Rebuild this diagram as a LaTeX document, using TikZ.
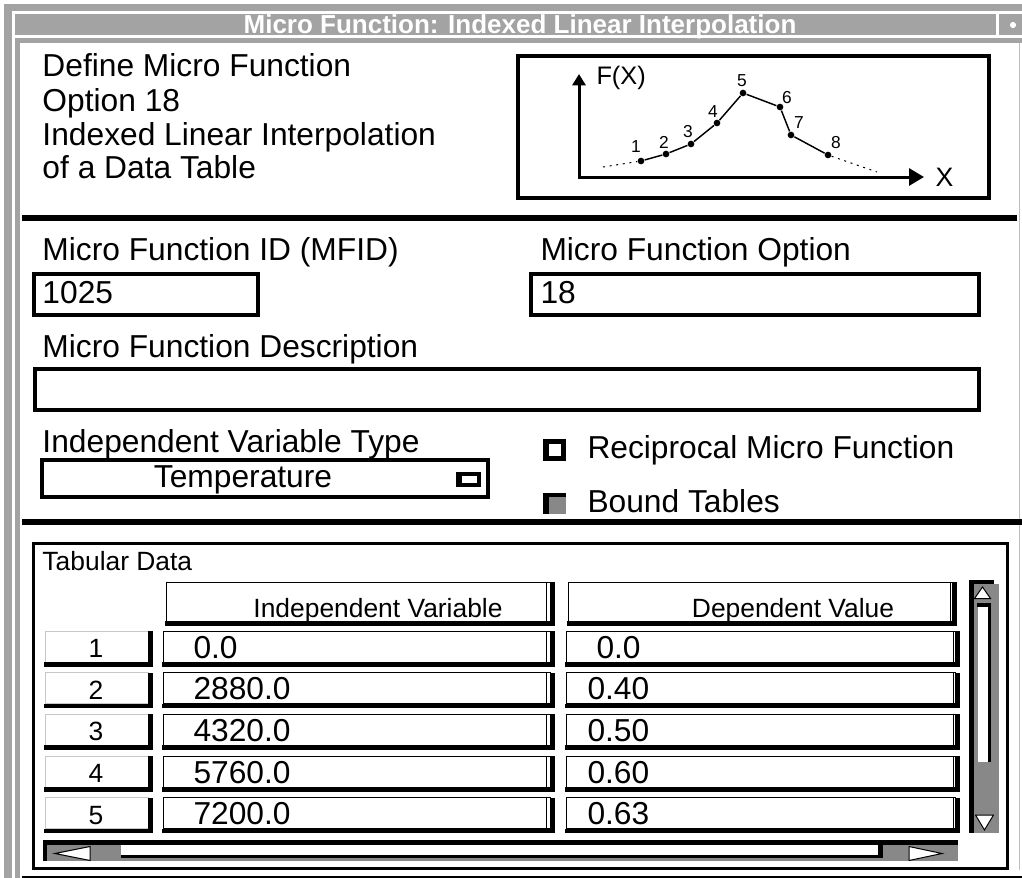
\documentclass[tikz,border=0pt]{standalone}
\usepackage{fontspec}
\setmainfont{Liberation Sans}
\usetikzlibrary{arrows.meta}

\definecolor{cellgray}{RGB}{200,200,200}
\tikzset{every picture/.style={line width=0.75pt}}
\tikzset{
  framegray/.style={fill={rgb, 255:red, 163; green, 163; blue, 163 }},
  bargray/.style={fill={rgb, 255:red, 136; green, 136; blue, 136 }},
  fieldbox/.style={draw, line width=3pt},
  bigtext/.style={inner sep=0pt, font=\fontsize{23.8}{28}\selectfont},
  smalltext/.style={inner sep=0pt, font=\fontsize{19.8}{24}\selectfont},
  titletext/.style={inner sep=0pt, text=white, font=\fontsize{19.5}{24}\selectfont\bfseries},
  dotpt/.style={circle, fill, inner sep=0pt, minimum size=5pt},
  ptlabel/.style={inner sep=0pt, font=\fontsize{13}{15}\selectfont},
}
% face of a table cell with its dark shadow on the right and below
\newcommand{\tabcell}[5][black]{%
  \draw [color=#1, line width=0.75pt] (#2,#3) rectangle (#4,#5);
  \fill (#4,#3) rectangle (#4+5,#5+4.5);
  \fill (#2-1,#5) rectangle (#4+5,#5+4.5);
}

\begin{document}
\begin{tikzpicture}[x=0.75pt,y=0.75pt,yscale=-1,xscale=1]
\useasboundingbox (0,0) rectangle (1022,878);
\fill [white] (0,0) rectangle (1022,878);

%Window frame
\fill [framegray] (4,4) rectangle (1022,11);
\fill [framegray] (4,4) rectangle (12,878);
\fill [framegray] (15,14) rectangle (996,35);
\fill [framegray] (999,14) rectangle (1022,35);
\fill [white] (1013,25) circle [radius=2.3pt];
\fill [framegray] (15,38) rectangle (1022,43);
\fill [framegray] (15,38) rectangle (20,878);
\draw [color={rgb, 255:red, 190; green, 190; blue, 190 }] (1019.5,43) -- (1019.5,870);

% Title
\draw (520,33) node [anchor=base] [titletext] (title) {Micro Function: Indexed Linear Interpolation};

% Text Node
\draw (42,76) node [anchor=base west] [bigtext] (info1) {Define Micro Function};
\draw (42,111) node [anchor=base west] [bigtext] (info2) {Option 18};
\draw (42,145) node [anchor=base west] [bigtext] (info3) {Indexed Linear Interpolation};
\draw (42,178) node [anchor=base west] [bigtext] (info4) {of a Data Table};

%Graph box
\draw [line width=3pt] (518,56) rectangle (989,198);
\coordinate (ytip) at (579,74);
\coordinate (origin) at (579,177);
\coordinate (xtip) at (924,177);
\draw [line width=2.25pt, {Triangle[length=8.5pt,width=9.75pt]}-{Triangle[length=11.25pt,width=12.75pt]}] (ytip) -- (origin) -- (xtip);
\draw (596,84) node [anchor=base west] [inner sep=0pt, font=\fontsize{19}{22}\selectfont] (fxlabel) {F(X)};
\draw (935,186) node [anchor=base west] [inner sep=0pt, font=\fontsize{20}{22}\selectfont] (xlabel) {X};
\foreach \i/\px/\py/\lx/\ly in {1/641/161/636/147, 2/666/154/664/142, 3/691/144/688/132, 4/717/123/713/112, 5/743/93/742/81, 6/780/107/787/98, 7/791/135/799/123, 8/828/155/836/143}{
  \node [dotpt] (p\i) at (\px,\py) {};
  \node [ptlabel] (l\i) at (\lx,\ly) {\i};
}
\draw [line width=1.1pt] (p1) -- (p2) -- (p3) -- (p4) -- (p5) -- (p6) -- (p7) -- (p8);
\coordinate (dleft) at (603,167);
\coordinate (dright) at (877,172);
\draw [dash pattern=on 1.5pt off 3.5pt] (dleft) -- (p1);
\draw [dash pattern=on 1.5pt off 3.5pt] (p8) -- (dright);

%Separators
\draw [line width=4.5pt] (22,218) -- (1017,218);
\draw [line width=4.5pt] (22,522) -- (1022,522);
\fill (22,876) rectangle (1022,878);

% Fields
\draw (42,260) node [anchor=base west] [bigtext] (mfidlabel) {Micro Function ID (MFID)};
\draw (540,260) node [anchor=base west] [bigtext] (optlabel) {Micro Function Option};
\draw [fieldbox] (34,274) rectangle (258,315);
\draw [fieldbox] (531,274) rectangle (979,315);
\draw (42,303) node [anchor=base west] [bigtext] (mfid) {1025};
\draw (540,303) node [anchor=base west] [bigtext] (opt) {18};
\draw (42,357) node [anchor=base west] [bigtext] (desclabel) {Micro Function Description};
\draw [fieldbox] (35,369) rectangle (979,410);
\draw (42,452) node [anchor=base west] [bigtext] (typelabel) {Independent Variable Type};
\draw [fieldbox] (42,460) rectangle (488,497);
\draw (243,487) node [anchor=base] [bigtext] (type) {Temperature};
\fill (456,472) rectangle (481,487);
\fill [white] (462,476) rectangle (477,483);

% Check boxes
\fill (543,439) rectangle (566,461);
\fill [white] (549,444) rectangle (561,456);
\draw (587,458) node [anchor=base west] [bigtext] (recip) {Reciprocal Micro Function};
\fill [bargray] (543,493) rectangle (566,514);
\fill (543,493) rectangle (566,497);
\fill (543,493) rectangle (548.5,514);
\draw (587,512) node [anchor=base west] [bigtext] (bound) {Bound Tables};

% Table
\draw [line width=2.25pt] (33.5,543.5) rectangle (1007.5,868);
\draw (42,570) node [anchor=base west] [smalltext] (tablabel) {Tabular Data};
\tabcell{166}{582}{550}{621}
\tabcell{568}{582}{952}{621}
\draw [line width=0.75pt] (546,582) -- (546,621);
\draw [line width=0.75pt] (950,582) -- (950,621);
\draw (378,617) node [anchor=base] [smalltext] (hdrind) {Independent Variable};
\draw (793,617) node [anchor=base] [smalltext] (hdrdep) {Dependent Value};
\foreach \n/\iv/\dv/\dx in {1/0.0/0.0/596, 2/2880.0/0.40/587, 3/4320.0/0.50/587, 4/5760.0/0.60/587, 5/7200.0/0.63/587}{
  \pgfmathsetmacro\ty{631+41.7*(\n-1)}
  \tabcell[cellgray]{45}{\ty}{148}{\ty+31}
  \tabcell{163}{\ty}{550}{\ty+31}
  \tabcell{566}{\ty}{955}{\ty+31}
  \draw [line width=0.75pt] (546,\ty) -- (546,\ty+31);
  \draw [line width=0.75pt] (953,\ty) -- (953,\ty+31);
  \draw (96,\ty+26.5) node [anchor=base] [smalltext] (num\n) {\n};
  \draw (193,\ty+27) node [anchor=base west] [bigtext] (ind\n) {\iv};
  \draw (\dx,\ty+27) node [anchor=base west] [bigtext] (dep\n) {\dv};
}

% Vertical scroll bar
\fill [bargray] (974,584) rectangle (999,833);
\fill (969,580) rectangle (974,833);
\fill (969,580) rectangle (994,584);
\draw [fill=white] (974.5,598.5) -- (990.5,598.5) -- (982.5,587) -- cycle;
\fill [white] (978,603) rectangle (989,762);
\fill (977,603) rectangle (991,607);
\fill (988,603) rectangle (991,762);
\draw [fill=white] (975.5,815) -- (993.5,815) -- (984.5,830) -- cycle;

% Horizontal scroll bar
\fill [bargray] (45,845) rectangle (958,861);
\fill (43,840) rectangle (958,845);
\fill (43,840) rectangle (47,861);
\draw [fill=white] (55,853.5) -- (90,846.5) -- (90,860.5) -- cycle;
\fill [white] (121,845) rectangle (880,855);
\fill (121,855) rectangle (883,858);
\fill (878,845) rectangle (883,858);
\draw [fill=white] (909,846.5) -- (909,860.5) -- (942,853.5) -- cycle;

\end{tikzpicture}
\end{document}
